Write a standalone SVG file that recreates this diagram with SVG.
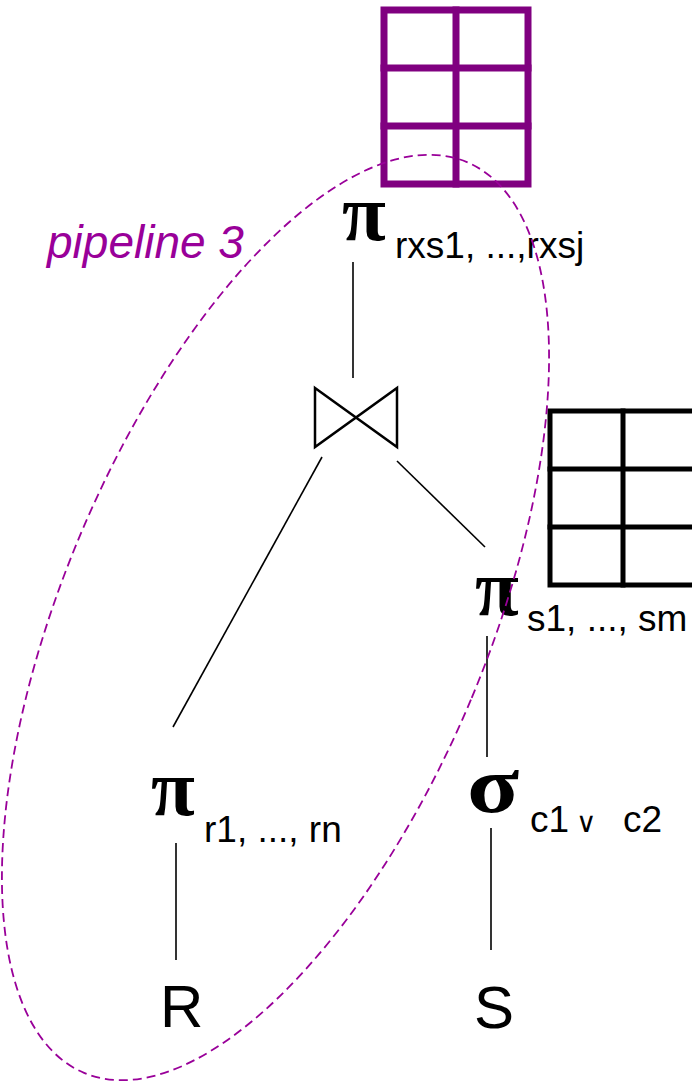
<svg xmlns="http://www.w3.org/2000/svg" width="692" height="1081" viewBox="0 0 692 1081">
<style>
.greek{font-family:"Liberation Serif","DejaVu Serif",serif;font-size:80px;font-weight:bold;fill:#000}
.sub{font-family:"Liberation Sans",Arial,sans-serif;font-size:37px;fill:#000}
.rel{font-family:"Liberation Sans",Arial,sans-serif;font-size:60px;fill:#000}
.edge{stroke:#000;stroke-width:1.6;fill:none}
.tbl{fill:none;stroke-linecap:square}
</style>
<rect width="692" height="1081" fill="#fff"/>
<g id="table-purple" class="tbl" stroke="#800080" stroke-width="7">
<rect x="384" y="10" width="144" height="174"/>
<line x1="456" y1="10" x2="456" y2="184"/>
<line x1="384" y1="68" x2="528" y2="68"/>
<line x1="384" y1="126" x2="528" y2="126"/>
</g>
<g id="table-black" class="tbl" stroke="#000" stroke-width="5">
<rect x="550" y="411" width="146" height="174"/>
<line x1="623" y1="411" x2="623" y2="585"/>
<line x1="550" y1="469" x2="696" y2="469"/>
<line x1="550" y1="527" x2="696" y2="527"/>
</g>
<g id="connectors">
<line class="edge" x1="353" y1="262" x2="353" y2="378"/>
<line class="edge" x1="322" y1="457" x2="173" y2="727"/>
<line class="edge" x1="397" y1="461" x2="485" y2="547"/>
<line class="edge" x1="487" y1="636" x2="487" y2="757"/>
<line class="edge" x1="176" y1="843" x2="176" y2="960"/>
<line class="edge" x1="491" y1="828" x2="491" y2="950"/>
</g>
<g id="proj-top">
<text class="greek" x="342" y="240">π</text>
<text class="sub" x="395" y="258">rxs1, ...,rxsj</text>
</g>
<g id="join">
<polygon points="315,388 397,447 397,388 315,447" fill="none" stroke="#000" stroke-width="2.5" stroke-linejoin="miter"/>
</g>
<g id="proj-s">
<text class="greek" x="475" y="615">π</text>
<text class="sub" x="527" y="631">s1, ..., sm</text>
</g>
<g id="proj-r">
<text class="greek" x="151" y="815">π</text>
<text class="sub" x="204" y="842">r1, ..., rn</text>
</g>
<g id="select">
<text class="greek" transform="translate(467 812) scale(1.2 1)">σ</text>
<text class="sub" y="832"><tspan x="530">c1</tspan><tspan x="576" font-family="DejaVu Sans,sans-serif" font-size="28">∨</tspan><tspan x="623">c2</tspan></text>
</g>
<g id="rel-R">
<text class="rel" x="160" y="1027">R</text>
</g>
<g id="rel-S">
<text class="rel" x="474" y="1028">S</text>
</g>
<g id="pipeline3">
<ellipse cx="275.5" cy="617.5" rx="212" ry="494" transform="rotate(22.8 275.5 617.5)" fill="none" stroke="#990099" stroke-width="1.8" stroke-dasharray="9 5"/>
<text x="47" y="258" font-family="Liberation Sans,Arial,sans-serif" font-size="46" font-style="italic" fill="#990099">pipeline 3</text>
</g>
</svg>
